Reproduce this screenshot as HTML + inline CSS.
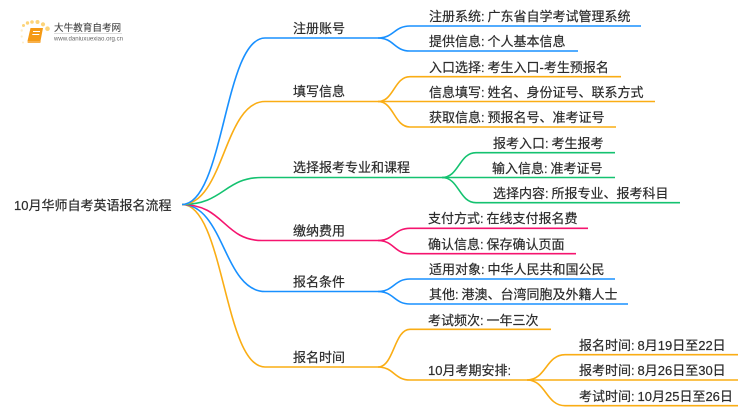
<!DOCTYPE html>
<html><head><meta charset="utf-8">
<style>
html,body{margin:0;padding:0;background:#fff;width:750px;height:410px;overflow:hidden}
svg{display:block}
text{font-family:"Liberation Sans","Noto Sans CJK SC",sans-serif;font-size:13px;fill:#2b2b2b;stroke:#2b2b2b;stroke-width:.2;word-spacing:-.7px}
path{fill:none;stroke-width:1.6}
.b{stroke:#1890ff}.o{stroke:#faad14}.g{stroke:#14c270}.p{stroke:#f5146f}
</style></head><body>
<svg width="750" height="410" viewBox="0 0 750 410" xmlns="http://www.w3.org/2000/svg">
<!-- logo -->
<g fill="#fcd47a">
<circle cx="23.5" cy="25.5" r="1.5"/><circle cx="27.5" cy="23" r="1.7"/><circle cx="32" cy="22" r="1.8"/><circle cx="37.5" cy="22" r="2"/><circle cx="43" cy="24.3" r="2.1"/><circle cx="47.5" cy="28.7" r="2.3"/>
</g>
<g fill="#fdeecb"><circle cx="21.7" cy="30.5" r="1.2"/><circle cx="21.7" cy="36.5" r="1.1"/><circle cx="23" cy="42.5" r="1"/></g>
<path d="M30.5 28h12.5l-2.5 13h-13z" style="fill:#f59a14;stroke:none"/>
<path d="M27.5 41l.2 2h12.6l.5-2z" style="fill:#f8b04a;stroke:none"/>
<path d="M33 31.5h7M32.3 34.5h7" style="stroke:#fff;stroke-width:1.1"/>
<text x="54" y="31" style="font-size:9.6px;fill:#444;stroke:#444;stroke-width:.1">大牛教育自考网</text>
<path d="M54 33.5H122" style="stroke:#ddd;stroke-width:1"/>
<text x="54" y="40.5" textLength="69" lengthAdjust="spacingAndGlyphs" style="font-size:6px;fill:#666;stroke:none">www.daniuxuexiao.org.cn</text>

<!-- root branches -->
<path class="o" d="M182 204.5C224 204.5 224 367 265 367H378"/>
<path class="b" d="M182 204.5C224 204.5 224 291.5 265 291.5H378"/>
<path class="p" d="M182 204.5C224 204.5 224 240.5 262 240.5H378"/>
<path class="g" d="M182 204.5C224 204.5 224 177.5 262 177.5H442"/>
<path class="o" d="M182 204.5C224 204.5 224 101.5 265 101.5H378"/>
<path class="b" d="M182 204.5C224 204.5 224 38 265 38H378"/>

<!-- level 2 -->
<path class="b" d="M378 38C394 38 394 26 410 26H641"/>
<path class="b" d="M378 38C394 38 394 51 410 51H578"/>
<path class="o" d="M378 101.5C394 101.5 394 76.7 410 76.7H621"/>
<path class="o" d="M378 101.5H655"/>
<path class="o" d="M378 101.5C394 101.5 394 127 410 127H616"/>
<path class="g" d="M442 177.5C459 177.5 459 152.7 476 152.7H615"/>
<path class="g" d="M442 177.5H615"/>
<path class="g" d="M442 177.5C459 177.5 459 202.7 476 202.7H680"/>
<path class="p" d="M378 240.5C394 240.5 394 228.3 410 228.3H588"/>
<path class="p" d="M378 240.5C394 240.5 394 253.7 410 253.7H576"/>
<path class="b" d="M378 291.5C394 291.5 394 279 410 279H615"/>
<path class="b" d="M378 291.5C394 291.5 394 304 410 304H628"/>
<path class="o" d="M378 367C394 367 394 329.3 410 329.3H551"/>
<path class="o" d="M378 367C394 367 394 380 410 380H527"/>
<path class="o" d="M527 380C546 380 546 354.7 565 354.7H738"/>
<path class="o" d="M527 380H738"/>
<path class="o" d="M527 380C546 380 546 405.7 565 405.7H738"/>

<!-- labels -->
<text x="14" y="210">10月华师自考英语报名流程</text>
<text x="293" y="33">注册账号</text>
<text x="293" y="96">填写信息</text>
<text x="293" y="172">选择报考专业和课程</text>
<text x="293" y="235.5">缴纳费用</text>
<text x="293" y="286.5">报名条件</text>
<text x="293" y="362">报名时间</text>

<text x="429" y="21">注册系统: 广东省自学考试管理系统</text>
<text x="429" y="46">提供信息: 个人基本信息</text>
<text x="429" y="72">入口选择: 考生入口-考生预报名</text>
<text x="429" y="97">信息填写: 姓名、身份证号、联系方式</text>
<text x="429" y="122">获取信息: 预报名号、准考证号</text>
<text x="493" y="148">报考入口: 考生报考</text>
<text x="492" y="173">输入信息: 准考证号</text>
<text x="493" y="198">选择内容: 所报专业、报考科目</text>
<text x="428" y="223">支付方式: 在线支付报名费</text>
<text x="428" y="249">确认信息: 保存确认页面</text>
<text x="429" y="274">适用对象: 中华人民共和国公民</text>
<text x="429" y="299">其他: 港澳、台湾同胞及外籍人士</text>
<text x="428" y="325">考试频次: 一年三次</text>
<text x="428" y="375">10月考期安排:</text>
<text x="579" y="350">报名时间: 8月19日至22日</text>
<text x="579" y="375">报考时间: 8月26日至30日</text>
<text x="579" y="401">考试时间: 10月25日至26日</text>
</svg>
</body></html>
